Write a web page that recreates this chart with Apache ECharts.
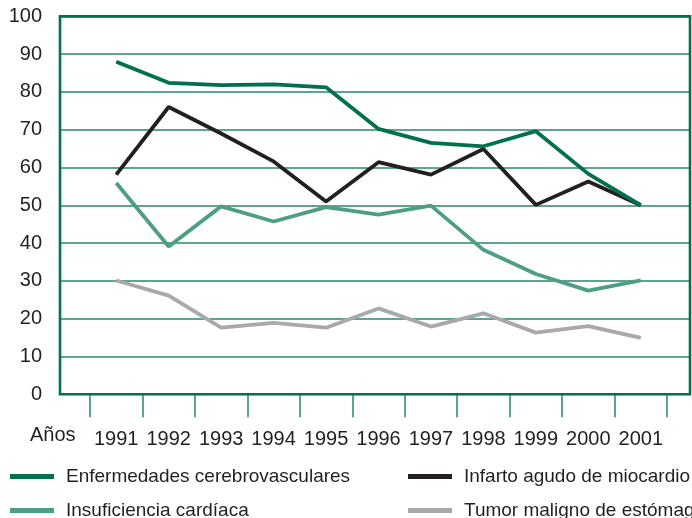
<!DOCTYPE html>
<html>
<head>
<meta charset="utf-8">
<script src="https://cdn.jsdelivr.net/npm/echarts@6/dist/echarts.min.js"></script>
<style>html,body{margin:0;padding:0;background:#fff}#c{width:692px;height:518px}</style>
</head>
<body>
<div id="c"></div>
<script>
const years = ['1991','1992','1993','1994','1995','1996','1997','1998','1999','2000','2001'];
const yTicks = [0,10,20,30,40,50,60,70,80,90,100];
const cerebro = [88.0, 82.4, 81.8, 82.0, 81.2, 70.2, 66.5, 65.6, 69.6, 58.3, 50.0];
const infarto = [58.1, 76.0, 69.0, 61.6, 51.0, 61.4, 58.1, 64.9, 50.1, 56.3, 50.0];
const insuf = [55.9, 39.1, 49.7, 45.7, 49.5, 47.5, 49.9, 38.2, 31.8, 27.4, 30.1];
const tumor = [30.1, 26.1, 17.6, 18.9, 17.6, 22.7, 17.9, 21.4, 16.3, 18.0, 14.9];
const names = ['Enfermedades cerebrovasculares','Infarto agudo de miocardio','Insuficiencia cardíaca','Tumor maligno de estómago'];

const FONT = '"Liberation Sans", Arial, sans-serif';
const C_DARK = '#00704e', C_BLACK = '#231f20', C_TEAL = '#4e9e87', C_GRAY = '#a7a9ac', C_GRID = '#2a8668';

const chart = echarts.init(document.getElementById('c'));
function lg(name, left, top) {
  return {
    data: [name], left: left, top: top, orient: 'horizontal',
    icon: 'rect', itemWidth: 44, itemHeight: 5, padding: 0,
    selectedMode: false,
    textStyle: { fontFamily: FONT, fontSize: 19, color: '#231f20', padding: [0,0,0,7] }
  };
}
const lineBase = { type: 'line', xAxisIndex: 1, yAxisIndex: 1, symbol: 'none', animation: false };
chart.setOption({
  animation: false,
  title: { text: 'Años', left: 30, top: 425, textStyle: { fontFamily: FONT, fontSize: 20, fontWeight: 'normal', color: '#231f20' }, padding: 0 },
  legend: [
    lg(names[0], 10, 467),
    lg(names[1], 408, 467),
    lg(names[2], 10, 501),
    lg(names[3], 408, 501)
  ],
  grid: [
    { left: 60, right: 2, top: 16.3, bottom: 123.8, show: true, borderColor: C_DARK, borderWidth: 2.6, backgroundColor: 'transparent', z: 3 },
    { left: 90, right: 25, top: 16.3, bottom: 123.8 }
  ],
  xAxis: [
    { gridIndex: 0, type: 'value', min: 0, max: 1, show: false },
    { gridIndex: 1, type: 'category', data: years, boundaryGap: true,
      axisLine: { show: false },
      axisTick: { show: true, length: 23, inside: false, alignWithLabel: false, lineStyle: { color: C_GRID, width: 1.5 } },
      axisLabel: { margin: 35, fontFamily: FONT, fontSize: 20, color: '#231f20', interval: 0 },
      splitLine: { show: false } }
  ],
  yAxis: [
    { gridIndex: 0, type: 'value', min: 0, max: 100, interval: 10,
      axisLine: { show: false }, axisTick: { show: false },
      axisLabel: { margin: 18, fontFamily: FONT, fontSize: 20, color: '#231f20',
        formatter: v => yTicks.includes(v) ? String(v) : '' },
      splitLine: { show: true, lineStyle: { color: C_GRID, width: 1.5 } } },
    { gridIndex: 1, type: 'value', min: 0, max: 100, interval: 10, show: false, splitLine: { show: false } }
  ],
  series: [
    Object.assign({}, lineBase, { name: names[3], data: tumor, lineStyle: { color: C_GRAY, width: 3.8 }, itemStyle: { color: C_GRAY } }),
    Object.assign({}, lineBase, { name: names[2], data: insuf, lineStyle: { color: C_TEAL, width: 3.8 }, itemStyle: { color: C_TEAL } }),
    Object.assign({}, lineBase, { name: names[1], data: infarto, lineStyle: { color: C_BLACK, width: 3.8 }, itemStyle: { color: C_BLACK } }),
    Object.assign({}, lineBase, { name: names[0], data: cerebro, lineStyle: { color: C_DARK, width: 3.8 }, itemStyle: { color: C_DARK } })
  ]
});
</script>
</body>
</html>
